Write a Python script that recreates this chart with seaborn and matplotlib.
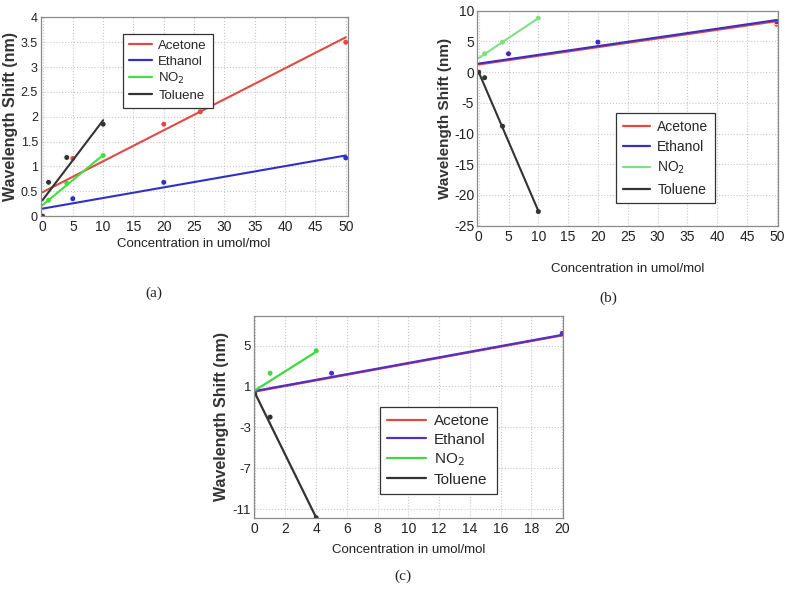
import matplotlib
matplotlib.use("Agg")
import matplotlib.pyplot as plt
import pandas as pd
import seaborn as sns

sns.set_theme(style="whitegrid")
plt.rcParams["font.family"] = ["Liberation Sans", "DejaVu Sans"]
plt.rcParams["axes.unicode_minus"] = False

gases = ["Acetone", "Ethanol", "NO$_2$", "Toluene"]

# ---- panel (a): measured points and fitted line ends
a_acetone_x = [0, 5, 20, 26, 50]
a_acetone_y = [0.0, 1.16, 1.85, 2.1, 3.5]
a_ethanol_x = [0, 5, 20, 50]
a_ethanol_y = [0.0, 0.35, 0.68, 1.17]
a_no2_x = [1, 4, 10]
a_no2_y = [0.32, 0.66, 1.22]
a_toluene_x = [0, 1, 4, 10]
a_toluene_y = [0.0, 0.68, 1.18, 1.85]
a_fit_x = {"Acetone": [0, 50], "Ethanol": [0, 50], "NO$_2$": [0, 10], "Toluene": [0, 10]}
a_fit_y = {"Acetone": [0.48, 3.6], "Ethanol": [0.15, 1.22], "NO$_2$": [0.22, 1.23], "Toluene": [0.32, 1.93]}

# ---- panel (b)
b_acetone_x = [0, 5, 20, 50]
b_acetone_y = [0.0, 2.9, 4.7, 7.8]
b_ethanol_x = [5, 20, 50]
b_ethanol_y = [3.0, 4.9, 8.2]
b_no2_x = [1, 4, 10]
b_no2_y = [3.0, 4.9, 8.8]
b_toluene_x = [0, 1, 4, 10]
b_toluene_y = [0.0, -0.9, -8.8, -22.7]
b_fit_x = {"Acetone": [0, 50], "Ethanol": [0, 50], "NO$_2$": [0, 10], "Toluene": [0, 10]}
b_fit_y = {"Acetone": [1.25, 8.3], "Ethanol": [1.4, 8.5], "NO$_2$": [2.3, 8.8], "Toluene": [0.0, -22.6]}

# ---- panel (c)
c_acetone_x = [5, 20]
c_acetone_y = [2.2, 6.1]
c_ethanol_x = [5, 20]
c_ethanol_y = [2.3, 6.2]
c_no2_x = [1, 4]
c_no2_y = [2.3, 4.5]
c_toluene_x = [0, 1, 4]
c_toluene_y = [0.3, -2.0, -11.85]
c_fit_x = {"Acetone": [0, 20], "Ethanol": [0, 20], "NO$_2$": [0, 4], "Toluene": [0, 4]}
c_fit_y = {"Acetone": [0.5, 6.0], "Ethanol": [0.55, 6.05], "NO$_2$": [0.6, 4.4], "Toluene": [0.4, -11.85]}

colors_a = {"Acetone": "#e04a42", "Ethanol": "#3030c8", "NO$_2$": "#3fe03f", "Toluene": "#333333"}
colors_b = {"Acetone": "#e04a42", "Ethanol": "#3a30c0", "NO$_2$": "#80e080", "Toluene": "#333333"}
colors_c = {"Acetone": "#e04a42", "Ethanol": "#5530c0", "NO$_2$": "#3fd83f", "Toluene": "#333333"}


def points_frame(xs, ys):
    rows = []
    for g, x, y in zip(gases, xs, ys):
        for xi, yi in zip(x, y):
            rows.append({"gas": g, "x": xi, "y": yi})
    return pd.DataFrame(rows)


def fit_frame(fx, fy):
    rows = []
    for g in gases:
        for xi, yi in zip(fx[g], fy[g]):
            rows.append({"gas": g, "x": xi, "y": yi})
    return pd.DataFrame(rows)


def draw_panel(ax, pts, fit, colors, xlim, ylim, xticks, yticks, lw, xpad,
               ylab_x, ylab_fs, ytick_fs, leg_kw):
    sns.lineplot(data=fit, x="x", y="y", hue="gas", palette=colors, hue_order=gases,
                 linewidth=lw, ax=ax, legend=False, estimator=None, sort=False)
    sns.scatterplot(data=pts, x="x", y="y", hue="gas", palette=colors, hue_order=gases,
                    marker="o", s=18, linewidth=0.6, edgecolor="white", ax=ax, legend=False)
    ax.set_xlim(*xlim)
    ax.set_ylim(*ylim)
    ax.set_xticks(xticks)
    ax.set_yticks(yticks)
    ax.grid(True, linestyle=":", color="#c8c8c8", linewidth=0.8)
    for sp in ax.spines.values():
        sp.set_color("#8a8a8a")
        sp.set_linewidth(0.9)
    ax.tick_params(axis="x", labelsize=10, colors="#222222", pad=3, length=0)
    ax.tick_params(axis="y", labelsize=ytick_fs, colors="#222222", pad=2, length=0)
    ax.set_xlabel("Concentration in umol/mol", fontsize=9.5, color="#222222", labelpad=xpad)
    ax.set_ylabel("Wavelength Shift (nm)", fontsize=ylab_fs, fontweight="bold", color="#333333")
    ax.yaxis.set_label_coords(ylab_x, 0.5)
    handles = [plt.Line2D([], [], color=colors[g], linewidth=1.6) for g in gases]
    leg = ax.legend(handles, gases, loc="upper left", frameon=True, fancybox=False,
                    borderpad=0.45, handletextpad=0.5, **leg_kw)
    leg.get_frame().set_edgecolor("#333333")
    leg.get_frame().set_linewidth(0.9)
    leg.get_frame().set_alpha(1)


fig = plt.figure(figsize=(7.87, 5.92), dpi=100)
ax_a = fig.add_axes([0.0517, 0.635, 0.39, 0.3356])
ax_b = fig.add_axes([0.606, 0.6188, 0.3825, 0.363])
ax_c = fig.add_axes([0.3227, 0.1255, 0.3926, 0.3407])

draw_panel(ax_a, points_frame([a_acetone_x, a_ethanol_x, a_no2_x, a_toluene_x],
                              [a_acetone_y, a_ethanol_y, a_no2_y, a_toluene_y]),
           fit_frame(a_fit_x, a_fit_y), colors_a, (-0.3, 50.3), (0, 4),
           range(0, 51, 5), [0, 0.5, 1, 1.5, 2, 2.5, 3, 3.5, 4], 1.5, 3,
           -0.073, 11.5, 9,
           dict(bbox_to_anchor=(0.248, 0.95), fontsize=9.5, handlelength=1.7, labelspacing=0.25))
ax_a.set_yticklabels(["0", "0.5", "1", "1.5", "2", "2.5", "3", "3.5", "4"])

draw_panel(ax_b, points_frame([b_acetone_x, b_ethanol_x, b_no2_x, b_toluene_x],
                              [b_acetone_y, b_ethanol_y, b_no2_y, b_toluene_y]),
           fit_frame(b_fit_x, b_fit_y), colors_b, (-0.3, 50.2), (-25, 10),
           range(0, 51, 5), range(-25, 11, 5), 1.5, 14,
           -0.083, 11, 10,
           dict(bbox_to_anchor=(0.44, 0.555), fontsize=10, handlelength=2.0, labelspacing=0.45))

draw_panel(ax_c, points_frame([c_acetone_x, c_ethanol_x, c_no2_x, c_toluene_x],
                              [c_acetone_y, c_ethanol_y, c_no2_y, c_toluene_y]),
           fit_frame(c_fit_x, c_fit_y), colors_c, (-0.05, 20.05), (-11.85, 7.9),
           range(0, 21, 2), [-11, -7, -3, 1, 5], 1.6, 6,
           -0.08, 11.5, 9.5,
           dict(bbox_to_anchor=(0.382, 0.585), fontsize=11, handlelength=2.6, labelspacing=0.3))

cap = dict(fontsize=11, family=["Liberation Serif", "DejaVu Serif"], ha="center", va="center")
fig.text(154 / 787, 1 - 293 / 592, "(a)", **cap)
fig.text(608 / 787, 1 - 298 / 592, "(b)", **cap)
fig.text(403 / 787, 1 - 576 / 592, "(c)", **cap)

fig.savefig("out.png", dpi=100, facecolor="white")
